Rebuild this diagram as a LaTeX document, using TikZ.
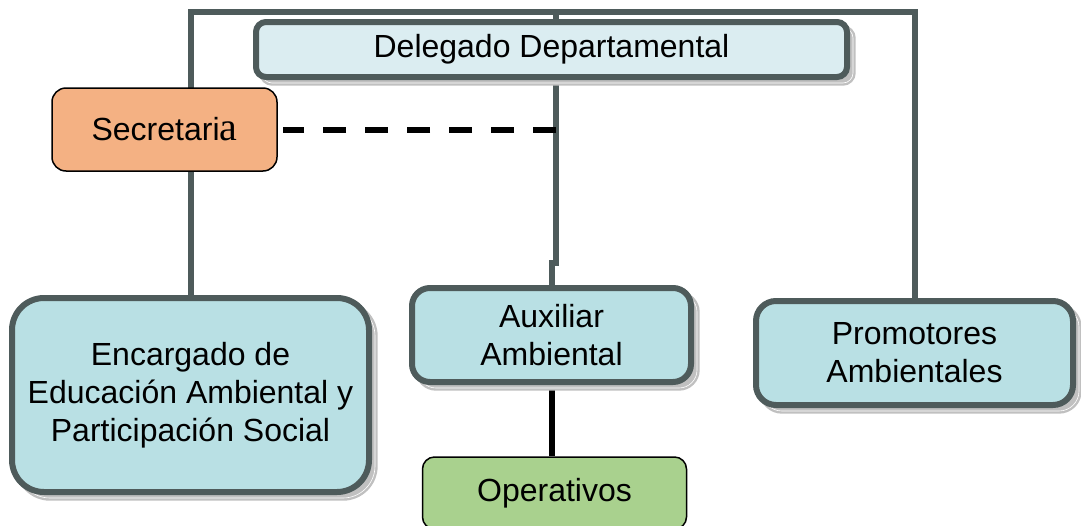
\documentclass[tikz,border=0pt]{standalone}
\usepackage{fontspec}
\setmainfont{Liberation Sans}
\newfontfamily\serifa{Liberation Serif}
\usetikzlibrary{positioning,shadows,backgrounds}
\definecolor{linegray}{RGB}{78,91,91}
\definecolor{headfill}{RGB}{219,237,241}
\definecolor{boxfill}{RGB}{185,224,228}
\definecolor{secfill}{RGB}{244,177,131}
\definecolor{opfill}{RGB}{169,209,142}
\definecolor{shadowgray}{RGB}{192,192,192}

\begin{document}
\begin{tikzpicture}[x=1pt, y=-1pt,
  every node/.style={font=\fontsize{32}{38}\selectfont, align=center, inner sep=0pt},
  unit/.style={rectangle, draw=linegray, line width=6pt, fill=boxfill,
    drop shadow={shadow xshift=6pt, shadow yshift=-6pt, opacity=1, fill=shadowgray,
      draw=shadowgray, double=white, double distance=0.6pt, line width=2.4pt}},
  plain/.style={rectangle, draw=black, line width=1.5pt},
  link/.style={draw=linegray, line width=6pt},
  ]
  \useasboundingbox (0,0) rectangle (1081,525);

  \node[unit, fill=headfill, rounded corners=10pt, minimum width=591pt, minimum height=55pt] (dele) at (551.5,49.5) {Delegado Departamental};
  \node[plain, fill=secfill, rounded corners=14pt, minimum width=225pt, minimum height=83pt] (sec) at (164.5,129.5) {Secretari{\serifa\fontsize{40}{40}\selectfont a}};
  \node[unit, rounded corners=32pt, minimum width=357pt, minimum height=194pt] (enc) at (190.5,395) {Encargado de\\Educación Ambiental y\\Participación Social};
  \node[unit, rounded corners=18pt, minimum width=279pt, minimum height=94pt] (aux) at (551.5,335) {Auxiliar\\Ambiental};
  \node[unit, rounded corners=20pt, minimum width=317pt, minimum height=104pt] (prom) at (914.5,353) {Promotores\\Ambientales};
  \node[plain, fill=opfill, rounded corners=12pt, minimum width=264pt, minimum height=72pt] (op) at (554.5,493) {Operativos};

  \coordinate (top) at (556,12);
  \coordinate (jog) at (556,263);
  \begin{scope}[on background layer]
    \draw[link] (enc.north) |- (top) -| (prom.north);
    \draw[link] (top) -- (jog) -| (aux.north);
    \draw[black, line width=6pt] (aux.south) -- (aux.south |- op.north);
  \end{scope}
  \draw[black, line width=6pt, dash pattern=on 23pt off 19pt, shorten >=5pt] (sec.east -| top) -- (sec.east);
\end{tikzpicture}
\end{document}
